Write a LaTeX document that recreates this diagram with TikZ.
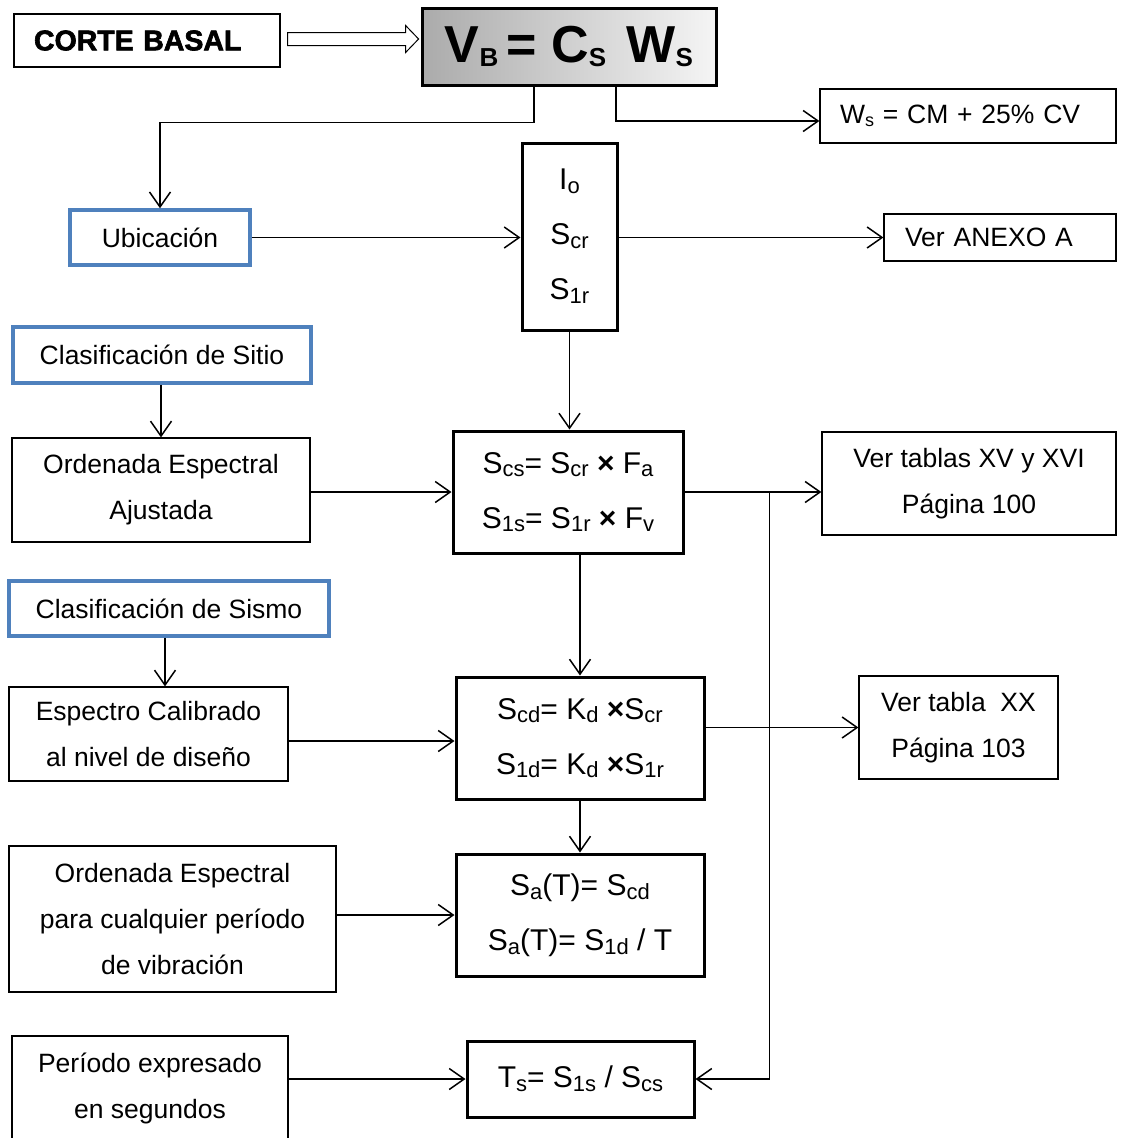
\documentclass[tikz,border=0pt]{standalone}
\usepackage{fontspec}
\setmainfont{Liberation Sans}
\newfontfamily\negrita{Liberation Sans}[BoldFeatures={FakeBold=2.2}]
\usepackage{tikz}
\usetikzlibrary{arrows.meta}

\definecolor{azul}{HTML}{4F81BD}
% subindice con tamano propio
\newcommand{\ix}[2][22]{{\fontsize{#1}{#1}\selectfont\raisebox{-.17em}{#2}}}
\newcommand{\por}{\textbf{×}}

\begin{document}
\begin{tikzpicture}[x=1pt,y=-1pt,>={Straight Barb[length=15pt,width=21pt]},
  caja/.style={draw,line width=1.2pt,inner sep=0pt,align=center,font=\fontsize{26.5}{46}\selectfont},
  cajaazul/.style={caja,draw=azul,line width=3.5pt},
  formula/.style={draw,line width=3pt,inner sep=0pt,align=center,font=\fontsize{30}{55}\selectfont},
  flecha/.style={->,line width=1.5pt}]
\useasboundingbox (0,0) rectangle (1122,1138);

% parte superior
\node[caja,minimum width=266,minimum height=53,text width=226,align=left,
  font=\fontsize{28.5}{30}\negrita\bfseries] (corte) at (147,40.5) {CORTE BASAL};
\node[formula,minimum width=294,minimum height=77,left color=black!33,right color=black!4,
  font=\fontsize{52}{52}\bfseries] (vb) at (569,46.5)
  {V\ix[26]{B}\hspace{8pt}= C\ix[26]{S}\hspace{6pt} W\ix[26]{S}};
\node[caja,minimum width=296,minimum height=54,text width=256,align=left] (ws) at (968,116) {W\ix[18]{s} = CM + 25\% CV};
\draw[line width=1pt] (corte.east) ++(7,-8) -- ++(118,0) -- ++(0,-7) -- ++(13,13.5)
  -- ++(-13,13.5) -- ++(0,-7) -- ++(-118,0) -- cycle;

% ubicacion
\node[cajaazul,minimum width=180,minimum height=55] (ubic) at (160,237.5) {Ubicación};
\node[formula,minimum width=95,minimum height=187] (io) at (569.5,236.5) {I\ix{o}\\S\ix{cr}\\S\ix{1r}};
\node[caja,minimum width=232,minimum height=47,text width=190,align=left] (anexo) at (1000,237.5) {Ver ANEXO A};

% sitio
\node[cajaazul,minimum width=298,minimum height=56] (sitio) at (162,355) {Clasificación de Sitio};
\node[caja,minimum width=298,minimum height=104] (ajust) at (161,490) {Ordenada Espectral\\Ajustada};
\node[formula,minimum width=230,minimum height=122] (scs) at (568,492)
  {S\ix{cs}= S\ix{cr} \por{} F\ix{a}\\S\ix{1s}= S\ix{1r} \por{} F\ix{v}};
\node[caja,minimum width=294,minimum height=103] (tablas) at (969,483.5) {Ver tablas XV y XVI\\Página 100};

% sismo
\node[cajaazul,minimum width=320,minimum height=55] (sismo) at (169,608.5) {Clasificación de Sismo};
\node[caja,minimum width=279,minimum height=94] (calib) at (148.5,734) {Espectro Calibrado\\al nivel de diseño};
\node[formula,minimum width=248,minimum height=122] (scd) at (580,738)
  {S\ix{cd}= K\ix{d} \por S\ix{cr}\\S\ix{1d}= K\ix{d} \por S\ix{1r}};
\node[caja,minimum width=199,minimum height=103] (tablaxx) at (958.5,727.5) {Ver tabla~ XX\\Página 103};

% espectro de diseno
\node[caja,minimum width=327,minimum height=146] (ordcual) at (172.5,919)
  {Ordenada Espectral\\para cualquier período\\de vibración};
\node[formula,minimum width=248,minimum height=122] (sa) at (580,915)
  {S\ix{a}(T)= S\ix{cd}\\S\ix{a}(T)= S\ix{1d} / T};

% periodo
\node[caja,minimum width=276,minimum height=104] (periodo) at (150,1088) {Período expresado\\en segundos};
\node[formula,minimum width=227,minimum height=76] (ts) at (580.5,1079) {T\ix{s}= S\ix{1s} / S\ix{cs}};

% conectores
\draw[flecha] ([xshift=-35pt]vb.south) -- ++(0,36) -| (ubic.north);
\draw[flecha] ([xshift=47pt]vb.south) |- ([yshift=-5pt]ws.west);
\draw[flecha] (ubic.east) -- (ubic.east -| io.west);
\draw[flecha] (io.east |- anexo.west) -- (anexo.west);
\draw[flecha] (ajust.north |- sitio.south) -- (ajust.north);
\draw[flecha] (io.south) -- (io.south |- scs.north);
\draw[flecha] (scs.west -| ajust.east) -- (scs.west);
\draw[flecha] (scs.east) -- (scs.east -| tablas.west);
\coordinate (rama) at ([xshift=85pt]scs.east);
\draw[flecha] (rama) |- (ts.east);
\draw[flecha] (scd.north |- scs.south) -- (scd.north);
\draw[flecha] ([xshift=-4pt]sismo.south) -- ([xshift=-4pt]sismo.south |- calib.north);
\draw[flecha] ([yshift=-7pt]calib.east) -- ([yshift=-7pt]calib.east -| scd.west);
\draw[flecha] (tablaxx.west -| scd.east) -- (tablaxx.west);
\draw[flecha] (scd.south) -- (sa.north);
\draw[flecha] (sa.west -| ordcual.east) -- (sa.west);
\draw[flecha] (ts.west -| periodo.east) -- (ts.west);
\end{tikzpicture}
\end{document}
